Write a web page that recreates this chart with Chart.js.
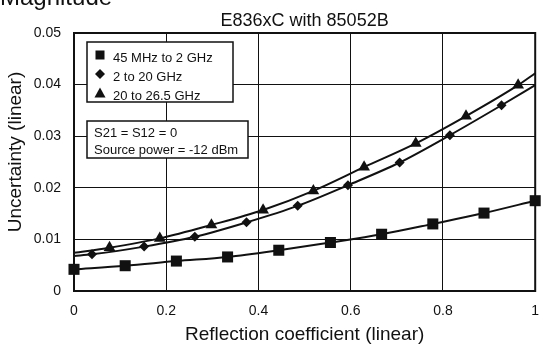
<!DOCTYPE html>
<html>
<head>
<meta charset="utf-8">
<script src="https://cdn.jsdelivr.net/npm/chart.js@4"></script>
<style>
  html, body { margin: 0; padding: 0; background: #fff; }
  #wrap { width: 543px; height: 350px; }
</style>
</head>
<body>
<div id="wrap"><canvas id="uncertainty-chart"></canvas></div>
<script>
// reflection coefficient (x) and uncertainty (y)
var rhoLow = [0, 0.111, 0.222, 0.333, 0.444, 0.556, 0.667, 0.778, 0.889, 1];
var uncLow = [0.0042, 0.0049, 0.0058, 0.0066, 0.0079, 0.0094, 0.0110, 0.0130, 0.0151, 0.0175];

// first and last entries are curve ends without a marker
var rhoMid = [0, 0.039, 0.152, 0.262, 0.374, 0.485, 0.594, 0.706, 0.815, 0.927, 1];
var uncMid = [0.0068, 0.0071, 0.0086, 0.0105, 0.0133, 0.0165, 0.0205, 0.0249, 0.0302, 0.0360, 0.0399];

var rhoHigh = [0, 0.077, 0.186, 0.298, 0.410, 0.519, 0.629, 0.741, 0.850, 0.963, 1];
var uncHigh = [0.0074, 0.0084, 0.0102, 0.0128, 0.0157, 0.0194, 0.0240, 0.0286, 0.0339, 0.0399, 0.0422];

var seriesNames = ['45 MHz to 2 GHz', '2 to 20 GHz', '20 to 26.5 GHz'];
var noteLines = ['S21 = S12 = 0', 'Source power = -12 dBm'];
var yTicks = [0, 0.01, 0.02, 0.03, 0.04, 0.05];
var xTicks = [0, 0.2, 0.4, 0.6, 0.8, 1];

var FONT = "'Liberation Sans', Arial, sans-serif";
var INK = '#111';

function pts(xs, ys) {
    return xs.map(function (x, i) { return { x: x, y: ys[i] }; });
}

// hide the marker on curve ends that carry no measured point
function endless(r) {
    return function (c) {
        var n = c.dataset.data.length;
        return (c.dataIndex === 0 || c.dataIndex === n - 1) ? 0 : r;
    };
}

var frameAndNotes = {
    id: 'frameAndNotes',
    beforeDatasetsDraw: function (chart) {
        var a = chart.chartArea, ctx = chart.ctx;
        ctx.save();
        ctx.strokeStyle = INK;
        ctx.lineWidth = 2;
        ctx.strokeRect(a.left, a.top, a.right - a.left, a.bottom - a.top);
        ctx.restore();
    },
    afterDatasetsDraw: function (chart) {
        var ctx = chart.ctx;
        ctx.save();
        ctx.fillStyle = INK;
        ctx.textBaseline = 'alphabetic';
        ctx.font = '24px ' + FONT;
        ctx.fillText('Magnitude', 0, 5);
        ctx.font = '18px ' + FONT;
        ctx.textAlign = 'center';
        ctx.fillText('E836xC with 85052B', (chart.chartArea.left + chart.chartArea.right) / 2, 25.5);

        // y axis title, sits a little above the middle of the axis
        ctx.save();
        ctx.translate(16, 152);
        ctx.rotate(-Math.PI / 2);
        ctx.textBaseline = 'middle';
        ctx.font = '19px ' + FONT;
        ctx.fillText('Uncertainty (linear)', 0, 0);
        ctx.restore();

        // series key
        ctx.textAlign = 'left';
        ctx.textBaseline = 'middle';
        ctx.fillStyle = '#fff';
        ctx.fillRect(87, 42, 146, 60);
        ctx.fillStyle = INK;
        ctx.font = '13px ' + FONT;
        var rows = [58, 77, 96];
        seriesNames.forEach(function (name, i) {
            ctx.fillText(name, 113, rows[i]);
        });
        var mx = 100;
        ctx.fillRect(mx - 4.5, 55 - 4.5, 9, 9);
        ctx.beginPath();
        ctx.moveTo(mx, 74 - 5); ctx.lineTo(mx + 5, 74); ctx.lineTo(mx, 74 + 5); ctx.lineTo(mx - 5, 74);
        ctx.closePath(); ctx.fill();
        ctx.beginPath();
        ctx.moveTo(mx, 93 - 5.5); ctx.lineTo(mx + 5.5, 93 + 4.5); ctx.lineTo(mx - 5.5, 93 + 4.5);
        ctx.closePath(); ctx.fill();
        ctx.lineWidth = 1.5;
        ctx.strokeStyle = INK;
        ctx.strokeRect(87, 42, 146, 60);

        // test conditions
        ctx.fillStyle = '#fff';
        ctx.fillRect(87, 121, 161, 37);
        ctx.fillStyle = INK;
        ctx.fillText(noteLines[0], 94, 133);
        ctx.fillText(noteLines[1], 94, 150);
        ctx.strokeRect(87, 121, 161, 37);
        ctx.restore();
    }
};

var lineStyle = {
    borderColor: INK,
    backgroundColor: INK,
    borderWidth: 2,
    pointBorderWidth: 0,
    cubicInterpolationMode: 'monotone',
    clip: false
};

new Chart(document.getElementById('uncertainty-chart'), {
    type: 'line',
    data: {
        datasets: [
            Object.assign({ label: seriesNames[0], data: pts(rhoLow, uncLow), pointStyle: 'rect', pointRadius: 7.8 }, lineStyle),
            Object.assign({ label: seriesNames[1], data: pts(rhoMid, uncMid), pointStyle: 'rectRot', pointRadius: endless(5) }, lineStyle),
            Object.assign({ label: seriesNames[2], data: pts(rhoHigh, uncHigh), pointStyle: 'triangle', pointRadius: endless(6.8) }, lineStyle)
        ]
    },
    options: {
        responsive: true,
        maintainAspectRatio: false,
        animation: false,
        layout: { padding: { top: 33, right: 3, left: 0, bottom: 0 } },
        plugins: {
            legend: { display: false },
            tooltip: { enabled: false }
        },
        scales: {
            x: {
                type: 'linear',
                min: 0,
                max: 1,
                afterBuildTicks: function (s) { s.ticks = xTicks.map(function (v) { return { value: v }; }); },
                afterFit: function (s) { s.height = 59; s.paddingLeft = 0; s.paddingRight = 0; },
                ticks: {
                    color: INK,
                    padding: 12,
                    maxRotation: 0,
                    font: { family: FONT, size: 14 },
                    callback: function (v) { return String(v); }
                },
                grid: { color: INK, lineWidth: 1, drawTicks: false },
                border: { display: false },
                title: {
                    display: true,
                    text: 'Reflection coefficient (linear)',
                    color: INK,
                    font: { family: FONT, size: 19 },
                    padding: { top: 0, bottom: 3.6 }
                }
            },
            y: {
                type: 'linear',
                min: 0,
                max: 0.05,
                afterBuildTicks: function (s) { s.ticks = yTicks.map(function (v) { return { value: v }; }); },
                afterFit: function (s) { s.width = 74; },
                ticks: {
                    color: INK,
                    padding: 13,
                    font: { family: FONT, size: 14 },
                    callback: function (v) { return String(v); }
                },
                grid: { color: INK, lineWidth: 1, drawTicks: false },
                border: { display: false }
            }
        }
    },
    plugins: [frameAndNotes]
});
</script>
</body>
</html>
